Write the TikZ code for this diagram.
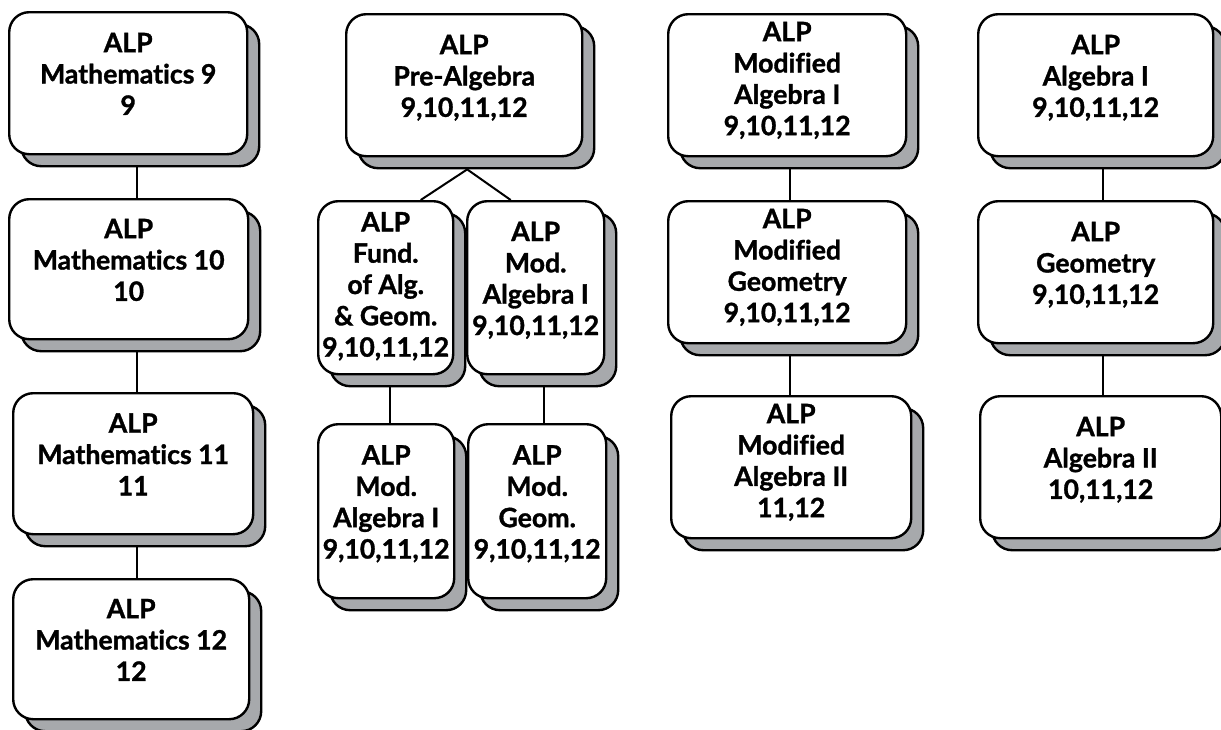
\documentclass[tikz,border=0pt]{standalone}
\usepackage{fontspec}
\setmainfont{Lato}[Ligatures=NoCommon,BoldFeatures={FakeBold=1.2}]
\usepackage{xcolor}
\usetikzlibrary{shadows,calc,backgrounds}
\definecolor{shadowgray}{RGB}{167,169,172}

\begin{document}
\begin{tikzpicture}[x=0.75pt,y=-0.75pt,
  font=\fontsize{20}{23.5}\selectfont\bfseries,
  course/.style 2 args={draw,line width=1.8pt,rounded corners=15pt,fill=white,
    align=center,anchor=north west,inner sep=0pt,text depth=14pt,
    minimum width=#1*0.75pt,minimum height=#2*0.75pt,
    copy shadow={shadow xshift=9pt,shadow yshift=-9pt,fill=shadowgray,draw=black,line width=1.8pt}},
  link/.style={line width=1.5pt}]
\useasboundingbox (0,0) rectangle (1221,729);
% mathematics sequence
\node[course={238}{142}] (m9) at (8,11) {ALP\\Mathematics 9\\9};
\node[course={239}{140}] (m10) at (8,198) {ALP\\Mathematics 10\\10};
\node[course={240}{141}] (m11) at (12,392) {ALP\\Mathematics 11\\11};
\node[course={236}{140}] (m12) at (12,578) {ALP\\Mathematics 12\\12};
% pre-algebra branch
\node[course={236}{142}] (prealg) at (345,13) {ALP\\Pre-Algebra\\9,10,11,12};
\node[course={135}{173},text depth=5pt] (fund) at (317,200) {ALP\\Fund.\\of Alg.\\\& Geom.\\9,10,11,12};
\node[course={137}{173}] (modalgA) at (466,200) {ALP\\Mod.\\Algebra I\\9,10,11,12};
\node[course={136}{174}] (modalgB) at (317,423) {ALP\\Mod.\\Algebra I\\9,10,11,12};
\node[course={138}{174}] (modgeom) at (467,423) {ALP\\Mod.\\Geom.\\9,10,11,12};
% modified sequence
\node[course={238}{142},text depth=10pt] (malg1) at (667,13) {ALP\\Modified\\Algebra I\\9,10,11,12};
\node[course={238}{142},text depth=10pt] (mgeom) at (667,200) {ALP\\Modified\\Geometry\\9,10,11,12};
\node[course={240}{142},text depth=10pt] (malg2) at (670,395) {ALP\\Modified\\Algebra II\\11,12};
% regular sequence
\node[course={235}{142}] (alg1) at (977,13) {ALP\\Algebra I\\9,10,11,12};
\node[course={235}{142}] (geom) at (977,200) {ALP\\Geometry\\9,10,11,12};
\node[course={241}{142}] (alg2) at (979,395) {ALP\\Algebra II\\10,11,12};
% links
\begin{pgfonlayer}{background}
\draw[link] ([xshift=6.5pt]m9.south) -- ([xshift=6.5pt]m9.south |- m10.north);
\draw[link] ([xshift=6.4pt]m10.south) -- ([xshift=6.4pt]m10.south |- m11.north);
\draw[link] ([xshift=3pt]m11.south) -- ([xshift=3pt]m11.south |- m12.north);
\coordinate (split) at ($(prealg.south)+(3,12)$);
\draw[link] ($(fund.north)+(35,0)$) -- (split) -- ($(modalgA.north)+(-25,0)$);
\draw[link] ([xshift=3.4pt]fund.south) -- ([xshift=3.4pt]fund.south |- modalgB.north);
\draw[link] ([xshift=6.4pt]modalgA.south) -- ([xshift=6.4pt]modalgA.south |- modgeom.north);
\draw[link] ([xshift=2.3pt]malg1.south) -- ([xshift=2.3pt]malg1.south |- mgeom.north);
\draw[link] ([xshift=2.3pt]mgeom.south) -- ([xshift=2.3pt]mgeom.south |- malg2.north);
\draw[link] ([xshift=5.6pt]alg1.south) -- ([xshift=5.6pt]alg1.south |- geom.north);
\draw[link] ([xshift=5.6pt]geom.south) -- ([xshift=5.6pt]geom.south |- alg2.north);
\end{pgfonlayer}
\end{tikzpicture}
\end{document}
